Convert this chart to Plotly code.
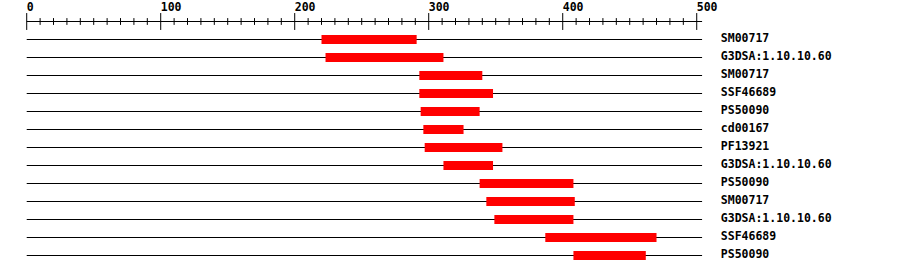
import plotly.graph_objects as go

# ---- data ----
seq_length = 504
labels = ["SM00717", "G3DSA:1.10.10.60", "SM00717", "SSF46689", "PS50090", "cd00167",
          "PF13921", "G3DSA:1.10.10.60", "PS50090", "SM00717", "G3DSA:1.10.10.60",
          "SSF46689", "PS50090"]
starts = [220, 223, 293, 293, 294, 296, 297, 311, 338, 343, 349, 387, 408]
ends = [291, 311, 340, 348, 338, 326, 355, 348, 408, 409, 408, 470, 462]
major_ticks = [0, 100, 200, 300, 400, 500]
minor_ticks = list(range(0, 501, 10))

rows = list(range(len(labels)))
ruler_y = -1

fig = go.Figure()

# background lines
lx, ly = [], []
for r in rows:
    lx += [0, seq_length, None]
    ly += [r, r, None]
fig.add_trace(go.Scatter(x=lx, y=ly, mode="lines", line=dict(color="black", width=1),
                         hoverinfo="skip", showlegend=False))

# domain bars (thick line segments drawn above the background lines)
bx, by = [], []
for r, s, e in zip(rows, starts, ends):
    bx += [s, e, None]
    by += [r, r, None]
fig.add_trace(go.Scatter(x=bx, y=by, mode="lines", line=dict(color="#ff0000", width=9),
                         hoverinfo="skip", showlegend=False))

# ruler line
fig.add_trace(go.Scatter(
    x=[0, seq_length], y=[ruler_y, ruler_y], mode="lines",
    line=dict(color="black", width=1), hoverinfo="skip", showlegend=False))

# minor ticks
mx, my = [], []
for t in minor_ticks:
    if t in major_ticks:
        continue
    mx += [t, t, None]
    my += [ruler_y - 0.19, ruler_y + 0.19, None]
fig.add_trace(go.Scatter(x=mx, y=my, mode="lines", line=dict(color="black", width=1),
                         hoverinfo="skip", showlegend=False))

# major ticks
Mx, My = [], []
for t in major_ticks:
    Mx += [t, t, None]
    My += [ruler_y - 0.47, ruler_y + 0.47, None]
fig.add_trace(go.Scatter(x=Mx, y=My, mode="lines", line=dict(color="black", width=1),
                         hoverinfo="skip", showlegend=False))

font = dict(family="DejaVu Sans Mono", size=11.5, color="black", weight="bold")

# tick labels
fig.add_trace(go.Scatter(
    x=major_ticks, y=[ruler_y - 0.75] * len(major_ticks), mode="text",
    text=[str(t) for t in major_ticks], textposition="middle right",
    textfont=font, hoverinfo="skip", showlegend=False, cliponaxis=False))

# row labels
fig.add_trace(go.Scatter(
    x=[518] * len(rows), y=rows, mode="text", text=labels,
    textposition="middle right", textfont=font,
    hoverinfo="skip", showlegend=False, cliponaxis=False))

fig.update_layout(
    width=900, height=274, margin=dict(l=0, r=0, t=0, b=0),
    paper_bgcolor="white", plot_bgcolor="white",
    xaxis=dict(range=[-19.93, 651.7], visible=False, fixedrange=True),
    yaxis=dict(range=[13.0278, -2.1944], visible=False, fixedrange=True),
)

fig.write_html("out.html")
